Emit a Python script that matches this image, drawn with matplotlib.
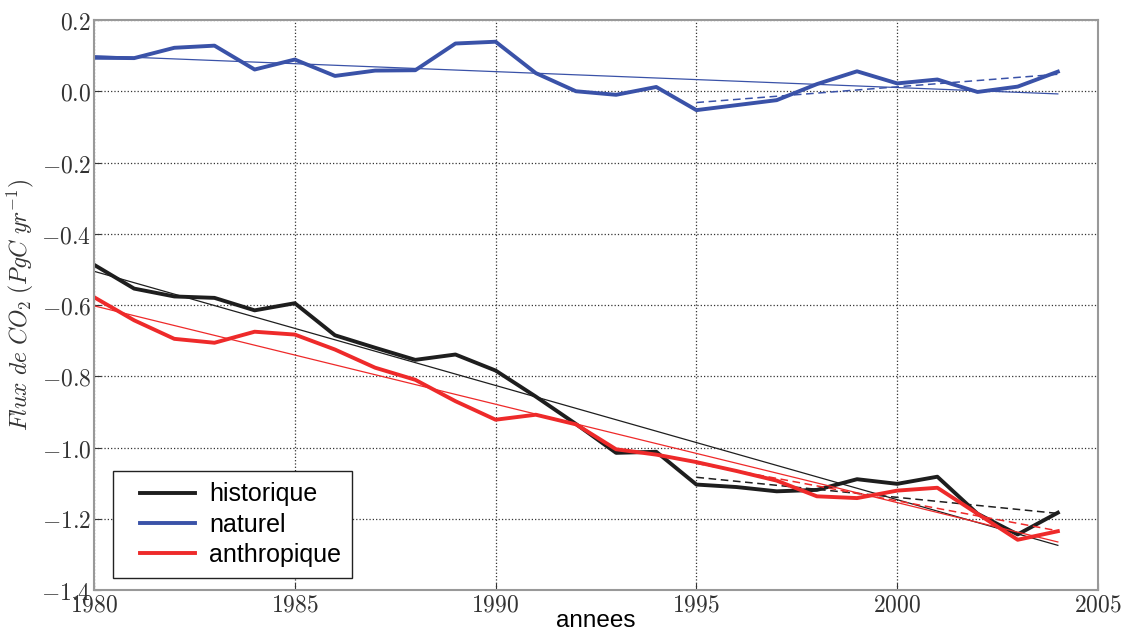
#!/usr/bin/env python3
import numpy as np
import matplotlib
matplotlib.use('Agg')
import matplotlib.pyplot as plt
from matplotlib.lines import Line2D
from matplotlib.legend_handler import HandlerLine2D
from matplotlib.ticker import FuncFormatter

plt.rcParams['mathtext.fontset'] = 'cm'

years = np.arange(1980, 2005)

historique = [-0.487, -0.554, -0.576, -0.580, -0.615, -0.595, -0.685, -0.720,
              -0.754, -0.739, -0.784, -0.857, -0.934, -1.015, -1.012, -1.104,
              -1.111, -1.123, -1.119, -1.089, -1.102, -1.082, -1.186, -1.244,
              -1.183]
naturel = [0.094, 0.093, 0.122, 0.128, 0.061, 0.089, 0.043, 0.058, 0.059,
           0.134, 0.139, 0.051, 0.000, -0.010, 0.012, -0.053, -0.039, -0.025,
           0.020, 0.056, 0.022, 0.033, -0.002, 0.013, 0.055]
anthropique = [-0.578, -0.643, -0.695, -0.706, -0.675, -0.683, -0.725, -0.776,
               -0.810, -0.870, -0.922, -0.908, -0.935, -1.005, -1.020, -1.041,
               -1.066, -1.093, -1.137, -1.142, -1.121, -1.113, -1.186, -1.259,
               -1.235]

series = [('historique', historique, '#1e1e1e'),
          ('naturel', naturel, '#3a52a8'),
          ('anthropique', anthropique, '#ee2a2a')]


def ytick(v, pos):
    v = round(v, 1)
    return r'$%.1f$' % (0.0 if v == 0 else v)


fig = plt.figure(figsize=(11.46, 6.32), dpi=100)
ax = fig.add_axes([94 / 1146, 42 / 632, 1004 / 1146, 570 / 632])

for name, values, color in series:
    values = np.array(values)
    ax.plot(years, values, color=color, lw=2.8, label=name)
    # trend over the whole period
    p = np.polyfit(years, values, 1)
    ax.plot(years, np.polyval(p, years), color=color, lw=0.9)
    # trend since 1995
    late = years >= 1995
    p = np.polyfit(years[late], values[late], 1)
    ax.plot(years[late], np.polyval(p, years[late]), color=color, lw=1.1,
            ls=(0, (5, 3)))

ax.set_xlim(1980, 2005)
ax.set_ylim(-1.4, 0.2)
ax.set_xticks(range(1980, 2006, 5))
ax.set_yticks(np.arange(-1.4, 0.21, 0.2))
ax.xaxis.set_major_formatter(FuncFormatter(lambda v, pos: r'$%d$' % v))
ax.yaxis.set_major_formatter(FuncFormatter(ytick))
ax.tick_params(direction='in', length=5, labelsize=17, colors='#333333',
               pad=2)
ax.grid(True, color='#333333', ls=':', lw=0.9)
for s in ax.spines.values():
    s.set_color('#999999')
    s.set_linewidth(1.5)

ax.set_xlabel('annees', fontsize=17.5, family='Liberation Sans', labelpad=-5)
ax.set_ylabel(r'$Flux\ de\ CO_2\ (PgC\ yr^{-1})$', fontsize=17, labelpad=4,
              color='#333333')

# extra room left of the legend lines
leg = ax.legend(loc='lower left', bbox_to_anchor=(0.019, 0.021),
                borderaxespad=0,
                prop={'family': 'Liberation Sans', 'size': 18},
                fancybox=False, framealpha=1, borderpad=0.45,
                handlelength=2.84, handletextpad=0.55, labelspacing=0.25,
                handler_map={Line2D: HandlerLine2D(xpad=0.64)})
leg.get_frame().set_edgecolor('#222222')
leg.get_frame().set_linewidth(1.0)

fig.savefig('out.png', dpi=100)
